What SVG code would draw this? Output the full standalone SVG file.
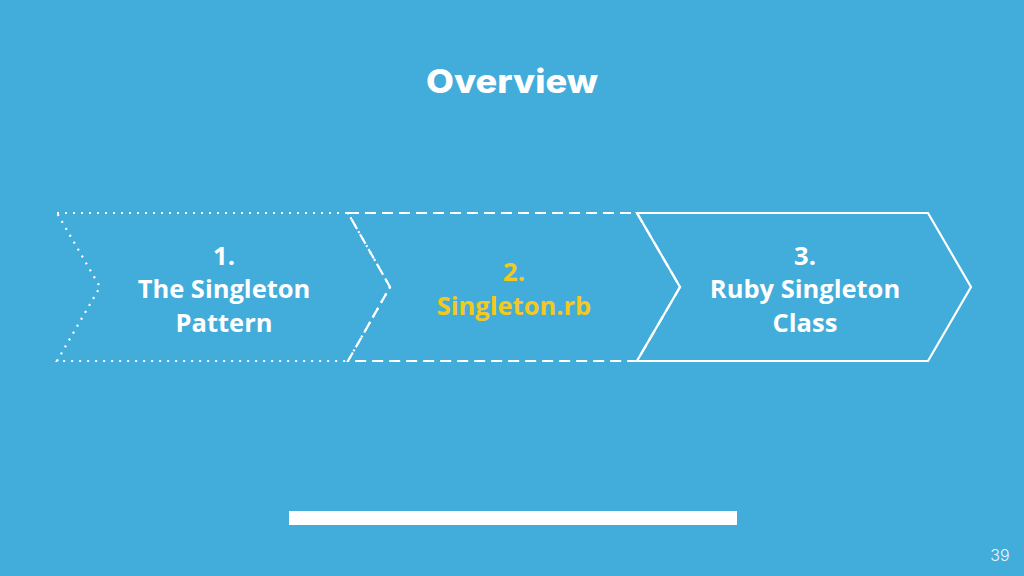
<svg xmlns="http://www.w3.org/2000/svg" width="1024" height="576" viewBox="0 0 1024 576">
<style>
.bg{fill:#42ADDB}
.ch{fill:none;stroke:#FFFFFF;stroke-width:2.2;stroke-linejoin:miter}
.dot{stroke-dasharray:2 6}
.dash{stroke-dasharray:11 6}
.lbl{font-family:"Open Sans","Noto Sans",sans-serif;font-weight:700;font-size:25.5px;text-anchor:middle;fill:#FFFFFF}
.hl{fill:#F3C91B}
.title{font-family:Inter,"Noto Sans",sans-serif;font-weight:800;font-size:33px;text-anchor:middle;fill:#FFFFFF}
.pg{font-family:Inter,"Noto Sans",sans-serif;font-weight:300;font-size:16px;text-anchor:middle;fill:#E8F5FB}
</style>
<rect class="bg" x="0" y="0" width="1024" height="576"/>
<g id="title"><text class="title" x="512" y="93" textLength="172" lengthAdjust="spacingAndGlyphs">Overview</text></g>
<g id="connectors"></g>
<g id="step1">
<path class="ch dot" d="M57,213 L348,213 L390,287 L348,361 L57,361 L100,287 Z"/>
<text class="lbl" x="224" y="265">1.</text>
<text class="lbl" x="224" y="298">The Singleton</text>
<text class="lbl" x="224" y="332">Pattern</text>
</g>
<g id="step2">
<path class="ch dash" d="M348,213 L637,213 L680,287 L637,361 L348,361 L390,287 Z"/>
<text class="lbl hl" x="514" y="281">2.</text>
<text class="lbl hl" x="514" y="315">Singleton.rb</text>
</g>
<g id="step3">
<path class="ch" d="M637,213 L928,213 L971,287 L928,361 L637,361 L680,287 Z"/>
<text class="lbl" x="805" y="265">3.</text>
<text class="lbl" x="805" y="298">Ruby Singleton</text>
<text class="lbl" x="805" y="332">Class</text>
</g>
<g id="bar"><rect x="289" y="511" width="448" height="14" fill="#FFFFFF"/></g>
<g id="page"><text class="pg" x="1000" y="561">39</text></g>
</svg>
